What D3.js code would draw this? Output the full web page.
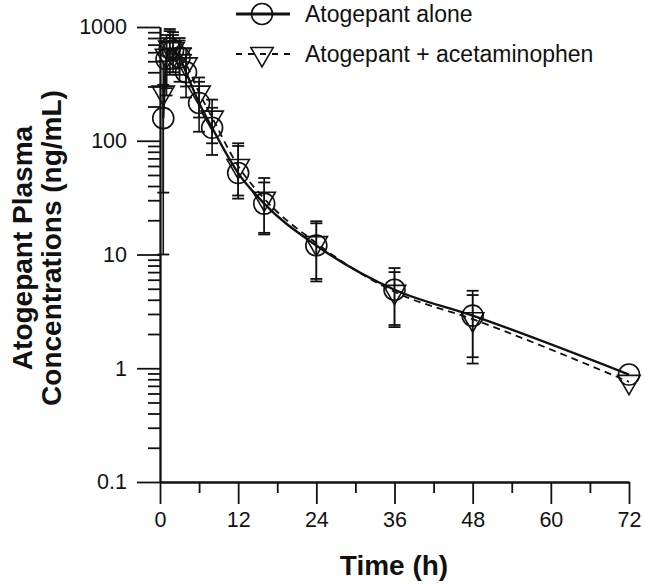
<!DOCTYPE html>
<html>
<head>
<meta charset="utf-8">
<script src="https://cdn.jsdelivr.net/npm/d3@7"></script>
<style>
  body { margin: 0; background: #fff; }
  text { font-family: "Liberation Sans", Arial, sans-serif; fill: #111; }
</style>
</head>
<body>
<script>
// sampling times (h)
var times = [0.5, 1, 1.5, 2, 3, 4, 6, 8, 12, 16, 24, 36, 48, 72];

// atogepant alone: mean, mean-SD, mean+SD
var aloneMean = [158, 520, 650, 620, 540, 400, 215, 130, 52, 28, 12, 4.9, 2.9, 0.88];
var aloneLo   = [10, 250, 380, 400, 330, 240, 120, 75, 31, 15, 5.8, 2.3, 1.1, null];
var aloneHi   = [310, 800, 920, 850, 760, 570, 330, 195, 90, 43, 18.8, 7.0, 4.4, null];

// atogepant + acetaminophen
var acetMean = [265, 560, 660, 640, 570, 470, 265, 160, 60, 31, 12.6, 4.7, 2.7, 0.76];
var acetLo   = [35, 290, 400, 430, 380, 300, 160, 95, 33, 15.5, 6.1, 2.4, 1.25, null];
var acetHi   = [500, 850, 960, 900, 800, 650, 360, 230, 95, 47, 19.6, 7.6, 4.8, null];

var xTicks = [0, 12, 24, 36, 48, 60, 72];
var xMinor = [6, 18, 30, 42, 54, 66];
var yTicks = [0.1, 1, 10, 100, 1000];

var svg = d3.select('body')
    .append('svg')
    .attr('width', 645)
    .attr('height', 587);

var x = d3.scaleLinear().domain([0, 72]).range([160, 629]);
var y = d3.scaleLog().domain([0.1, 1000]).range([482, 27]);

// minor y ticks: 2..9 in each decade
var yMinor = [];
[0.1, 1, 10, 100].forEach(function(d) {
    for (var k = 2; k <= 9; k++) yMinor.push(d * k);
});

svg.append('g')
    .attr('transform', 'translate(160,0)')
    .call(d3.axisLeft(y).tickValues(yTicks).tickSize(23).tickSizeOuter(0)
        .tickPadding(10).tickFormat(function(d) { return String(d); }));
svg.append('g')
    .attr('transform', 'translate(160,0)')
    .call(d3.axisLeft(y).tickValues(yMinor).tickSize(12).tickSizeOuter(0).tickFormat(''));

svg.append('g')
    .attr('transform', 'translate(0,' + y(0.1) + ')')
    .call(d3.axisBottom(x).tickValues(xTicks).tickSize(22).tickSizeOuter(0).tickPadding(8));
svg.append('g')
    .attr('transform', 'translate(0,' + y(0.1) + ')')
    .call(d3.axisBottom(x).tickValues(xMinor).tickSize(11).tickSizeOuter(0).tickFormat(''));

svg.selectAll('.domain, .tick line')
    .attr('stroke', '#111')
    .attr('stroke-width', 1.8);
svg.selectAll('.tick text')
    .style('font-size', '21.5px')
    .attr('fill', '#111');

// axis titles
svg.append('text')
    .attr('x', 394)
    .attr('y', 575)
    .attr('text-anchor', 'middle')
    .style('font-size', '28px')
    .style('font-weight', 'bold')
    .text('Time (h)');

var yt = svg.append('text')
    .attr('transform', 'translate(32,248) rotate(-90)')
    .attr('text-anchor', 'middle')
    .style('font-size', '28px')
    .style('font-weight', 'bold');
yt.append('tspan').attr('x', 0).attr('y', 0).text('Atogepant Plasma');
yt.append('tspan').attr('x', 0).attr('y', 29).text('Concentrations (ng/mL)');

// series
var series = [
    { name: 'Atogepant alone', mean: aloneMean, lo: aloneLo, hi: aloneHi, dash: null, shape: 'circle' },
    { name: 'Atogepant + acetaminophen', mean: acetMean, lo: acetLo, hi: acetHi, dash: '7,5', shape: 'triangle' }
];

var tri = d3.symbol().type(d3.symbolTriangle).size(215);

function marker(g, shape, px, py) {
    if (shape === 'circle') {
        g.append('circle')
            .attr('cx', px).attr('cy', py).attr('r', 10.5)
            .attr('fill', 'none').attr('stroke', '#111').attr('stroke-width', 1.6);
    } else {
        g.append('path')
            .attr('d', tri())
            .attr('transform', 'translate(' + px + ',' + py + ') rotate(180)')
            .attr('fill', 'none').attr('stroke', '#111').attr('stroke-width', 1.6);
    }
}

series.forEach(function(s) {
    var g = svg.append('g');
    var pts = times.map(function(t, i) { return { t: t, v: s.mean[i], lo: s.lo[i], hi: s.hi[i] }; });

    // error bars
    pts.filter(function(p) { return p.lo != null; }).forEach(function(p) {
        var px = x(p.t);
        g.append('line')
            .attr('x1', px).attr('x2', px)
            .attr('y1', y(p.lo)).attr('y2', y(p.hi))
            .attr('stroke', '#111').attr('stroke-width', 1.6);
        [p.lo, p.hi].forEach(function(v) {
            g.append('line')
                .attr('x1', px - 6).attr('x2', px + 6)
                .attr('y1', y(v)).attr('y2', y(v))
                .attr('stroke', '#111').attr('stroke-width', 1.8);
        });
    });

    var line = d3.line()
        .x(function(p) { return x(p.t); })
        .y(function(p) { return y(p.v); })
        .curve(d3.curveMonotoneX);

    g.append('path')
        .datum(pts)
        .attr('d', line)
        .attr('fill', 'none')
        .attr('stroke', '#111')
        .attr('stroke-width', s.dash ? 1.8 : 2.4)
        .attr('stroke-dasharray', s.dash);

    pts.forEach(function(p) { marker(g, s.shape, x(p.t), y(p.v)); });
});

// legend
var legY = [14, 54];
series.forEach(function(s, i) {
    var g = svg.append('g');
    g.append('line')
        .attr('x1', 236).attr('x2', 290)
        .attr('y1', legY[i]).attr('y2', legY[i])
        .attr('stroke', '#111')
        .attr('stroke-width', s.dash ? 2 : 3)
        .attr('stroke-dasharray', s.dash ? '6,6' : null);
    marker(g, s.shape, 262, legY[i]);
    g.append('text')
        .attr('x', 305)
        .attr('y', legY[i])
        .attr('dy', '0.36em')
        .style('font-size', '23px')
        .text(s.name);
});
</script>
</body>
</html>
